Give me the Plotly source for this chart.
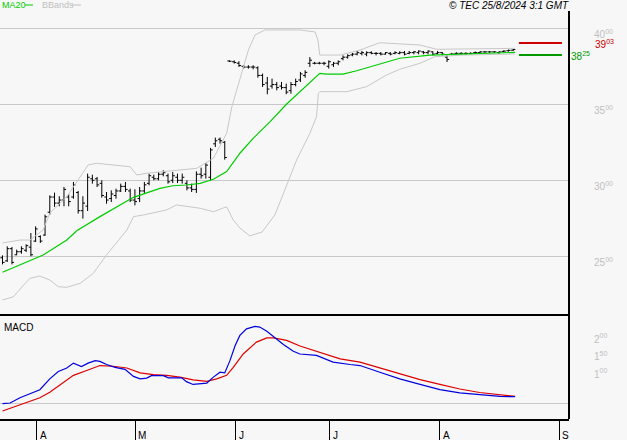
import plotly.graph_objects as go

# ---------------- data ----------------
highs = [25.06, 25.66, 25.61, 25.44, 25.66, 25.79, 26.53, 26.97, 26.38, 27.74,
         29.01, 29.19, 28.95, 29.56, 29.08, 29.89, 29.30, 28.95, 30.44, 30.37,
         30.22, 30.00, 29.23, 29.34, 29.45, 29.78, 29.89, 29.45, 29.41, 29.56,
         29.89, 30.44, 30.37, 30.55, 30.66, 30.44, 30.55, 30.44, 30.44, 30.00,
         29.78, 30.59, 30.83, 31.14, 32.13, 32.81, 32.81, 32.59, 37.89, 37.89,
         37.83, 37.57, 37.57, 37.57, 37.50, 37.02, 36.80, 36.69, 36.47, 36.47,
         36.36, 36.47, 36.69, 37.13, 37.24, 38.11, 37.79, 37.79, 37.79, 37.89,
         37.79, 37.89, 38.22, 38.29, 38.38, 38.51, 38.51, 38.49, 38.49, 38.44,
         38.44, 38.44, 38.44, 38.49, 38.49, 38.51, 38.51, 38.51, 38.55, 38.51,
         38.55, 38.49, 38.51, 38.44, 38.22, 38.38, 38.42, 38.42, 38.42, 38.42,
         38.47, 38.49, 38.49, 38.49, 38.49, 38.49, 38.55, 38.60, 38.64]
lows = [24.47, 24.63, 24.47, 25.07, 25.17, 25.28, 25.00, 25.94, 25.88, 26.35,
        27.74, 28.25, 28.29, 28.29, 28.29, 28.79, 27.81, 27.48, 27.98, 29.78,
        29.56, 28.86, 28.46, 28.57, 28.79, 29.23, 29.23, 28.57, 28.35, 28.57,
        29.17, 29.67, 30.00, 30.00, 30.26, 29.78, 29.82, 29.82, 29.78, 29.34,
        29.23, 29.17, 30.11, 30.11, 30.00, 32.19, 32.41, 31.36, 37.78, 37.68,
        37.46, 37.35, 37.35, 37.30, 36.75, 36.14, 35.66, 36.03, 35.92, 35.97,
        35.66, 35.70, 36.18, 36.47, 36.75, 37.46, 37.63, 37.63, 37.57, 37.35,
        37.46, 37.57, 37.89, 38.00, 38.16, 38.22, 38.22, 38.16, 38.29, 38.22,
        38.22, 38.27, 38.22, 38.29, 38.29, 38.22, 38.29, 38.29, 38.29, 38.29,
        38.29, 38.22, 38.29, 38.22, 37.78, 38.22, 38.29, 38.29, 38.27, 38.29,
        38.33, 38.33, 38.38, 38.38, 38.38, 38.33, 38.42, 38.47, 38.51]
opens = [24.9, 24.7, 25.5, 25.1, 25.3, 25.4, 25.6, 26.0, 26.3, 26.4,
         27.9, 28.9, 28.5, 28.7, 28.9, 28.9, 29.2, 28.0, 28.3, 30.1,
         30.1, 29.8, 28.9, 28.8, 29.0, 29.3, 29.6, 29.3, 28.7, 28.8,
         29.3, 29.8, 30.2, 30.1, 30.4, 30.3, 30.0, 30.2, 30.0, 29.8,
         29.5, 29.4, 30.4, 30.4, 30.2, 32.4, 32.7, 32.5, 37.85, 37.8,
         37.7, 37.5, 37.45, 37.45, 37.4, 36.9, 36.4, 36.2, 36.3, 36.2,
         36.1, 35.9, 36.3, 36.6, 36.9, 37.7, 37.7, 37.7, 37.7, 37.5,
         37.6, 37.7, 38.0, 38.1, 38.25, 38.3, 38.35, 38.3, 38.4, 38.35,
         38.35, 38.3, 38.35, 38.35, 38.35, 38.4, 38.35, 38.4, 38.4, 38.45,
         38.4, 38.45, 38.35, 38.4, 38.1, 38.3, 38.35, 38.35, 38.35, 38.35,
         38.4, 38.4, 38.45, 38.45, 38.45, 38.4, 38.48, 38.52, 38.56]
closes = [24.6, 25.5, 24.6, 25.3, 25.5, 25.7, 25.1, 26.8, 26.0, 27.6,
          28.9, 28.5, 28.7, 29.4, 28.6, 29.7, 28.0, 28.5, 30.2, 30.0,
          29.7, 29.0, 28.7, 29.1, 29.3, 29.6, 29.4, 28.7, 28.6, 29.3,
          29.7, 30.3, 30.1, 30.4, 30.5, 29.9, 30.3, 30.0, 30.2, 29.5,
          29.4, 30.4, 30.3, 31.0, 32.0, 32.6, 32.6, 31.5, 37.83, 37.75,
          37.55, 37.45, 37.45, 37.45, 36.9, 36.3, 36.0, 36.3, 36.1, 36.1,
          35.8, 36.3, 36.5, 37.0, 37.1, 37.9, 37.7, 37.7, 37.7, 37.8,
          37.7, 37.8, 38.1, 38.2, 38.3, 38.4, 38.4, 38.4, 38.35, 38.35,
          38.3, 38.4, 38.3, 38.4, 38.4, 38.3, 38.4, 38.45, 38.5, 38.4,
          38.5, 38.3, 38.4, 38.3, 37.95, 38.3, 38.35, 38.35, 38.35, 38.35,
          38.4, 38.45, 38.45, 38.45, 38.45, 38.45, 38.5, 38.55, 38.6]
bar_index = list(range(len(highs)))

ma20_x = [0, 8.6, 13.6, 15.7, 20.6, 27.7, 33.3, 36.0, 38.9, 41.8, 44.6, 47.4,
          49.2, 50.2, 53.0, 56.6, 60.1, 62.9, 67.1, 68.5, 72.0, 74.9, 78.4,
          81.2, 84.0, 90.4, 100.9, 108.4]
ma20_y = [23.95, 25.09, 26.07, 26.68, 27.61, 28.88, 29.47, 29.64, 29.69, 29.80,
          30.07, 30.57, 31.34, 31.78, 32.76, 33.86, 35.02, 35.83, 37.04, 36.99,
          36.99, 37.21, 37.54, 37.80, 38.03, 38.24, 38.36, 38.42]

bb_up_x = [0, 3.7, 5.8, 8.6, 10.0, 13.6, 18.1, 19.9, 27.0, 28.4, 30.5, 41.1,
           44.6, 47.4, 48.5, 50.2, 52.0, 53.4, 55.5, 62.9, 66.1, 66.7, 67.1,
           71.4, 72.8, 75.6, 79.8, 88.3, 91.8, 108.4]
bb_up_y = [25.88, 26.07, 26.07, 26.73, 27.83, 28.92, 31.01, 31.12, 30.89, 30.35,
           30.46, 30.79, 31.45, 33.09, 34.84, 36.60, 38.57, 39.56, 39.89, 39.89,
           39.76, 39.23, 38.24, 38.24, 38.36, 38.57, 39.05, 38.90, 38.62, 38.68]

bb_lo_x = [0, 2.3, 4.8, 5.8, 7.9, 10.0, 11.8, 13.6, 16.4, 19.2, 22.0, 26.3,
           27.7, 29.8, 34.7, 36.8, 41.8, 44.6, 47.4, 48.8, 50.2, 52.3, 54.9,
           57.6, 59.7, 62.2, 65.0, 66.4, 66.8, 67.1, 72.8, 77.0, 81.2, 84.0,
           88.3, 91.4, 97.4, 108.4]
bb_lo_y = [22.12, 22.34, 23.22, 23.55, 23.70, 23.44, 23.00, 22.96, 23.22, 23.88,
           25.09, 26.73, 27.61, 27.72, 28.05, 28.38, 28.16, 27.93, 28.26, 27.39,
           26.86, 26.34, 26.60, 27.72, 29.36, 31.34, 33.09, 34.18, 35.72, 35.83,
           35.83, 36.16, 36.93, 37.30, 37.70, 38.13, 38.24, 38.31]

macd_x = [0, 1.6, 3.7, 5.8, 7.9, 10.0, 11.8, 13.6, 15.0, 16.7, 18.1, 19.6, 20.6,
          22.0, 23.8, 25.9, 27.7, 29.1, 30.5, 31.5, 34.0, 35.1, 37.9, 38.9, 40.3,
          43.2, 44.6, 46.0, 47.0, 48.1, 49.2, 50.2, 51.6, 53.4, 54.4, 55.9, 57.3,
          59.4, 61.5, 62.9, 66.4, 69.9, 73.5, 75.6, 79.8, 84.0, 88.3, 92.5, 96.7,
          100.9, 105.2, 108.4]
macd_y = [-0.02, 0.00, 0.15, 0.26, 0.38, 0.69, 0.90, 1.00, 1.14, 1.04, 1.14, 1.21,
          1.19, 1.10, 1.02, 0.96, 0.76, 0.69, 0.71, 0.78, 0.78, 0.72, 0.72, 0.61,
          0.53, 0.57, 0.74, 0.88, 0.86, 1.21, 1.64, 1.93, 2.12, 2.19, 2.17, 2.05,
          1.90, 1.67, 1.48, 1.40, 1.36, 1.17, 1.10, 1.07, 0.88, 0.69, 0.53, 0.38,
          0.29, 0.23, 0.19, 0.18]
signal_x = [0, 2.3, 5.1, 7.9, 10.0, 12.2, 15.0, 17.8, 20.6, 23.4, 26.3, 29.1,
            31.9, 34.7, 37.5, 40.3, 43.2, 45.3, 47.4, 48.8, 50.9, 53.7, 55.9,
            57.3, 60.1, 62.9, 67.1, 71.4, 75.6, 79.8, 84.0, 88.3, 92.5, 96.7,
            100.9, 105.2, 108.4]
signal_y = [-0.23, -0.12, 0.02, 0.15, 0.31, 0.53, 0.79, 0.93, 1.07, 1.05, 1.00,
            0.86, 0.81, 0.79, 0.74, 0.66, 0.62, 0.69, 0.79, 1.02, 1.40, 1.74,
            1.86, 1.86, 1.79, 1.63, 1.45, 1.26, 1.17, 1.00, 0.83, 0.67, 0.53,
            0.40, 0.30, 0.24, 0.19]

month_labels = ["A", "M", "J", "J", "A", "S"]
month_pos = [7.2, 28.1, 49.3, 69.2, 92.5, 117.7]

price_ticks = [25, 30, 35, 40]
price_tick_text = ["25<sup>00</sup>", "30<sup>00</sup>", "35<sup>00</sup>", "40<sup>00</sup>"]
macd_ticks = [1.0, 1.5, 2.0]
macd_tick_text = ["1<sup>00</sup>", "1<sup>50</sup>", "2<sup>00</sup>"]

last_price = 39.03
last_price_text = "39<sup>03</sup>"
last_ma = 38.25
last_ma_text = "38<sup>25</sup>"

# ---------------- layout helpers ----------------
W, H = 627, 440
ML, MR, MT, MB = 0, 58, 11, 21
PW, PH = W - ML - MR, H - MT - MB
FONT = "Liberation Sans, Arial, sans-serif"
BG = "#f7f7f7"
GRID = "#c8c8c8"


def px_x(px):
    return (px - ML) / PW


def px_y(py):
    return (H - MB - py) / PH


split = px_y(315)
x_range = [-0.53, 119.8]

fig = go.Figure()
fig.add_trace(go.Scatter(x=bb_up_x, y=bb_up_y, mode="lines",
                         line=dict(color=GRID, width=1), xaxis="x", yaxis="y",
                         hoverinfo="skip", showlegend=False))
fig.add_trace(go.Scatter(x=bb_lo_x, y=bb_lo_y, mode="lines",
                         line=dict(color=GRID, width=1), xaxis="x", yaxis="y",
                         hoverinfo="skip", showlegend=False))
fig.add_trace(go.Scatter(x=ma20_x, y=ma20_y, mode="lines",
                         line=dict(color="#00cc00", width=1.2), xaxis="x", yaxis="y",
                         hoverinfo="skip", showlegend=False))
fig.add_trace(go.Ohlc(x=bar_index, open=opens, high=highs, low=lows, close=closes,
                      increasing=dict(line=dict(color="black", width=1)),
                      decreasing=dict(line=dict(color="black", width=1)),
                      tickwidth=0.45, xaxis="x", yaxis="y",
                      hoverinfo="skip", showlegend=False))
fig.add_trace(go.Scatter(x=signal_x, y=signal_y, mode="lines",
                         line=dict(color="#dd0000", width=1.2), xaxis="x2", yaxis="y2",
                         hoverinfo="skip", showlegend=False))
fig.add_trace(go.Scatter(x=macd_x, y=macd_y, mode="lines",
                         line=dict(color="#0000dd", width=1.2), xaxis="x2", yaxis="y2",
                         hoverinfo="skip", showlegend=False))

price_top = 40 + (28.3 - 11) / 15.2
price_bot = 40 - (315 - 28.3) / 15.2
macd_top = (403 - 315) / 35
macd_bot = (403 - 419) / 35

tickfont = dict(family=FONT, size=10, color="#c0c0c0")

fig.update_layout(
    width=W, height=H,
    margin=dict(l=ML, r=MR, t=MT, b=MB, pad=0, autoexpand=False),
    paper_bgcolor=BG, plot_bgcolor=BG,
    showlegend=False,
    font=dict(family=FONT, size=10, color="black"),
    xaxis=dict(domain=[0, 1], anchor="y", range=x_range, showticklabels=False,
               showgrid=False, zeroline=False, showline=False,
               rangeslider=dict(visible=False), automargin=False),
    yaxis=dict(domain=[split, 1], anchor="x", range=[price_bot, price_top], side="right",
               tickvals=price_ticks, ticktext=price_tick_text, tickfont=tickfont,
               showgrid=True, gridcolor=GRID, gridwidth=1, zeroline=False,
               ticks="", showline=False, ticklabelstandoff=24, ticklabelshift=6,
               automargin=False),
    xaxis2=dict(domain=[0, 1], anchor="y2", range=x_range, tickvals=month_pos,
                ticks="outside", ticklen=21, tickcolor="black", tickwidth=1,
                showticklabels=False, showline=True, linecolor="black", linewidth=2,
                showgrid=False, zeroline=False, rangeslider=dict(visible=False),
                automargin=False),
    yaxis2=dict(domain=[0, split], anchor="x2", range=[macd_bot, macd_top], side="right",
                tickvals=macd_ticks, ticktext=macd_tick_text, tickfont=tickfont,
                showgrid=False, zeroline=True, zerolinecolor=GRID, zerolinewidth=1,
                ticks="", showline=False, ticklabelstandoff=24, ticklabelshift=6,
                automargin=False),
)

shapes = [
    dict(type="line", xref="paper", yref="paper", x0=1, x1=1, y0=0, y1=1,
         line=dict(color="black", width=2)),
    dict(type="line", xref="paper", yref="paper", x0=0, x1=1, y0=split, y1=split,
         line=dict(color="black", width=2)),
    dict(type="line", xref="x", yref="y", x0=109.2, x1=118.3, y0=last_price, y1=last_price,
         line=dict(color="#cc0000", width=2)),
    dict(type="line", xref="x", yref="y", x0=109.2, x1=118.3, y0=last_ma, y1=last_ma,
         line=dict(color="#009900", width=2)),
    dict(type="line", xref="paper", yref="paper", x0=px_x(25), x1=px_x(33),
         y0=px_y(5), y1=px_y(5), line=dict(color="#00cc00", width=1)),
    dict(type="line", xref="paper", yref="paper", x0=px_x(72), x1=px_x(81),
         y0=px_y(5), y1=px_y(5), line=dict(color="#c0c0c0", width=1)),
]

annotations = [
    dict(text="MA20", xref="paper", yref="paper", x=px_x(0), y=px_y(5),
         xanchor="left", yanchor="middle", showarrow=False,
         font=dict(family=FONT, size=9, color="#00cc00")),
    dict(text="BBands", xref="paper", yref="paper", x=px_x(40), y=px_y(5),
         xanchor="left", yanchor="middle", showarrow=False,
         font=dict(family=FONT, size=9, color="#c0c0c0")),
    dict(text="<i>© TEC 25/8/2024 3:1 GMT</i>", xref="paper", yref="paper",
         x=px_x(447), y=px_y(5), xanchor="left", yanchor="middle", showarrow=False,
         font=dict(family=FONT, size=10, color="black")),
    dict(text="MACD", xref="paper", yref="paper", x=px_x(2), y=px_y(327),
         xanchor="left", yanchor="middle", showarrow=False,
         font=dict(family=FONT, size=10, color="black")),
    dict(text=last_price_text, xref="paper", yref="y", x=px_x(593), y=last_price,
         xanchor="left", yanchor="middle", yshift=-1, showarrow=False,
         font=dict(family=FONT, size=10, color="#cc0000")),
    dict(text=last_ma_text, xref="paper", yref="y", x=px_x(569), y=last_ma,
         xanchor="left", yanchor="middle", yshift=-1, showarrow=False,
         font=dict(family=FONT, size=10, color="#009900")),
]
for lab, pos in zip(month_labels, month_pos):
    annotations.append(dict(text=lab, xref="x2", yref="paper", x=pos, y=px_y(428),
                            xanchor="left", yanchor="top", xshift=1, showarrow=False,
                            font=dict(family=FONT, size=10, color="black")))

fig.update_layout(shapes=shapes, annotations=annotations)

fig.write_html("out.html", config={"displayModeBar": False, "staticPlot": True},
               post_script="document.body.style.margin='0px';document.body.style.background='#f7f7f7';")
